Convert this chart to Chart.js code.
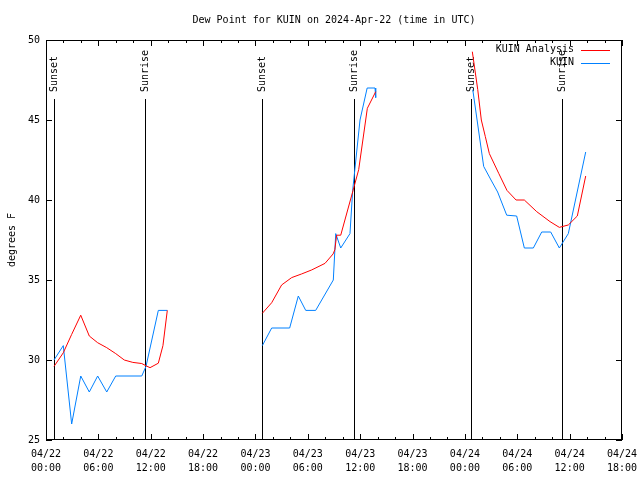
<!DOCTYPE html>
<html>
<head>
<meta charset="utf-8">
<script src="https://cdn.jsdelivr.net/npm/chart.js@4.4.1/dist/chart.umd.min.js"></script>
<style>
  html, body { margin: 0; padding: 0; background: #fff; }
  canvas { display: block; }
</style>
</head>
<body>
<canvas id="dewChart" width="640" height="480"></canvas>
<script>
// horas desde 04/22 00:00 UTC (null = sem dados)
const analysisHours = [0.92, 1.98, 2.94, 3.98, 4.96, 5.92, 6.96, 7.99, 8.97, 9.95, 10.97, 11.46, 11.92, 12.87, 13.4, 13.9,
    18,
    24.79, 25.86, 27.0, 28.15, 29.3, 30.45, 31.97, 32.9, 33.1, 33.3, 33.77, 35.3, 35.83, 36.82, 37.78,
    43,
    48.85, 49.47, 49.88, 50.34, 50.8, 51.87, 52.82, 53.86, 54.81, 56.23, 57.75, 58.82, 59.85, 60.88, 61.84];
const analysisValues = [29.6, 30.45, 31.6, 32.8, 31.5, 31.08, 30.77, 30.4, 30.0, 29.85, 29.78, 29.64, 29.52, 29.8, 30.9, 33.1,
    null,
    32.92, 33.58, 34.69, 35.15, 35.38, 35.63, 36.04, 36.63, 36.9, 37.8, 37.8, 40.83, 41.9, 45.73, 46.77,
    null,
    49.27, 46.9, 45.0, 43.96, 42.9, 41.67, 40.6, 40.0, 40.0, 39.27, 38.65, 38.29, 38.44, 39.0, 41.5];

const obsHours = [0.92, 1.98, 2.94, 3.98, 4.96, 5.92, 6.96, 7.99, 10.97, 11.46, 12.87, 13.9,
    18,
    24.79, 25.86, 27.92, 28.91, 29.76, 30.9, 32.92, 33.2, 33.77, 34.83, 35.14, 35.98, 36.8, 37.7, 37.78,
    43,
    48.9, 50.15, 50.99, 51.75, 52.79, 53.93, 54.81, 55.84, 56.8, 57.83, 58.82, 59.85, 61.84];
const obsValues = [30.0, 30.9, 26.0, 29, 28, 29, 28, 29, 29, 29.6, 33.1, 33.1,
    null,
    30.9, 32, 32, 34, 33.1, 33.1, 35.0, 37.9, 37.0, 37.9, 40.6, 45.0, 47.0, 47.0, 46.4,
    null,
    46.9, 42.1, 41.25, 40.5, 39.05, 39, 37, 37, 38, 38, 37, 37.9, 43.0];

const sunsetHours = [0.95, 24.79, 48.73];
const sunriseHours = [11.38, 35.33, 59.16];

const xTickLabels = [
    ['04/22', '00:00'], ['04/22', '06:00'], ['04/22', '12:00'], ['04/22', '18:00'],
    ['04/23', '00:00'], ['04/23', '06:00'], ['04/23', '12:00'], ['04/23', '18:00'],
    ['04/24', '00:00'], ['04/24', '06:00'], ['04/24', '12:00'], ['04/24', '18:00']
];
const seriesNames = ['KUIN Analysis', 'KUIN'];

const cores = {
    vermelho: '#ff0000',
    azul: '#0080ff',
    preto: '#000000'
};
const fonte = 'DejaVu Sans Mono';

function toPoints(hours, values) {
    return hours.map((h, i) => ({ x: h, y: values[i] }));
}

// moldura, ticks para dentro, linhas de nascer/pôr do sol, título e legenda
const gnuplotLook = {
    id: 'gnuplotLook',
    beforeDatasetsDraw(chart) {
        const { ctx, chartArea: a, scales } = chart;
        const xs = scales.x, ys = scales.y;
        ctx.save();
        ctx.strokeStyle = cores.preto;
        ctx.lineWidth = 1;
        ctx.strokeRect(Math.round(a.left) + 0.5, Math.round(a.top) + 0.5,
            Math.round(a.right - a.left) - 1, Math.round(a.bottom - a.top) - 1);

        ctx.beginPath();
        xs.ticks.forEach(t => {
            const px = Math.round(xs.getPixelForValue(t.value)) + 0.5;
            const len = t.value % 6 === 0 ? 6 : 3;
            ctx.moveTo(px, a.bottom); ctx.lineTo(px, a.bottom - len);
            ctx.moveTo(px, a.top); ctx.lineTo(px, a.top + len);
        });
        ys.ticks.forEach(t => {
            const py = Math.round(ys.getPixelForValue(t.value)) + 0.5;
            ctx.moveTo(a.left, py); ctx.lineTo(a.left + 6, py);
            ctx.moveTo(a.right, py); ctx.lineTo(a.right - 6, py);
        });
        ctx.stroke();

        const eventos = sunsetHours.map(h => [h, 'Sunset']).concat(sunriseHours.map(h => [h, 'Sunrise']));
        ctx.font = '10px "' + fonte + '"';
        ctx.fillStyle = cores.preto;
        eventos.forEach(([h, txt]) => {
            const px = Math.round(xs.getPixelForValue(h)) + 0.5;
            ctx.beginPath();
            ctx.moveTo(px, 99);
            ctx.lineTo(px, a.bottom);
            ctx.stroke();
            ctx.save();
            ctx.translate(px, 92);
            ctx.rotate(-Math.PI / 2);
            ctx.textAlign = 'left';
            ctx.textBaseline = 'middle';
            ctx.fillText(txt, 0, 0);
            ctx.restore();
        });
        ctx.restore();
    },
    afterDraw(chart) {
        const { ctx, chartArea: a } = chart;
        ctx.save();
        ctx.font = '10px "' + fonte + '"';
        ctx.fillStyle = cores.preto;
        ctx.textAlign = 'center';
        ctx.textBaseline = 'middle';
        ctx.fillText('Dew Point for KUIN on 2024-Apr-22 (time in UTC)', (a.left + a.right) / 2, 20);

        ctx.textAlign = 'right';
        chart.data.datasets.forEach((ds, i) => {
            const y = 49.5 + i * 13;
            ctx.fillStyle = cores.preto;
            ctx.fillText(ds.label, 574, y);
            ctx.strokeStyle = ds.borderColor;
            ctx.lineWidth = 1;
            ctx.beginPath();
            ctx.moveTo(581, Math.round(y) + 0.5);
            ctx.lineTo(610, Math.round(y) + 0.5);
            ctx.stroke();
        });
        ctx.restore();
    }
};

const grafico = document.getElementById('dewChart');
new Chart(grafico, {
    type: 'line',
    data: {
        datasets: [{
            label: seriesNames[0],
            data: toPoints(analysisHours, analysisValues),
            borderColor: cores.vermelho,
            borderWidth: 1,
            pointRadius: 0,
            tension: 0,
            spanGaps: false
        }, {
            label: seriesNames[1],
            data: toPoints(obsHours, obsValues),
            borderColor: cores.azul,
            borderWidth: 1,
            pointRadius: 0,
            tension: 0,
            spanGaps: false
        }]
    },
    options: {
        responsive: false,
        animation: false,
        devicePixelRatio: 1,
        layout: { padding: { top: 40, right: 18, left: 0, bottom: 0 } },
        plugins: {
            legend: { display: false },
            title: { display: false },
            tooltip: { enabled: false }
        },
        scales: {
            x: {
                type: 'linear',
                min: 0,
                max: 66,
                afterFit: s => { s.height = 40; s.paddingLeft = 0; s.paddingRight = 0; },
                grid: { display: false, drawTicks: false },
                border: { display: false },
                ticks: {
                    stepSize: 2,
                    autoSkip: false,
                    maxRotation: 0,
                    padding: 7,
                    color: cores.preto,
                    font: { family: fonte, size: 10, lineHeight: 1.4 },
                    callback: v => (v % 6 === 0 ? xTickLabels[v / 6] : '')
                }
            },
            y: {
                min: 25,
                max: 50,
                afterFit: s => { s.width = 46; s.paddingTop = 0; s.paddingBottom = 0; },
                grid: { display: false, drawTicks: false },
                border: { display: false },
                title: {
                    display: true,
                    text: 'degrees F',
                    color: cores.preto,
                    font: { family: fonte, size: 10 },
                    padding: { top: 6, bottom: 2 }
                },
                ticks: {
                    stepSize: 5,
                    padding: 6,
                    color: cores.preto,
                    font: { family: fonte, size: 10 }
                }
            }
        }
    },
    plugins: [gnuplotLook]
});
</script>
</body>
</html>
